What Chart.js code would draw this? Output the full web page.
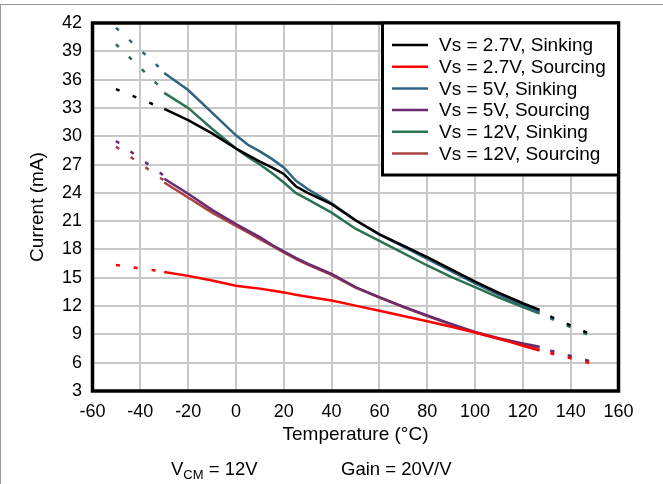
<!DOCTYPE html>
<html>
<head>
<meta charset="utf-8">
<title>Output current vs temperature</title>
<script src="https://cdn.jsdelivr.net/npm/chart.js@4.4.1/dist/chart.umd.min.js"></script>
<style>
  html, body { margin: 0; padding: 0; background: #fff; }
  canvas { display: block; }
</style>
</head>
<body>
<canvas id="currentChart" width="663" height="484"></canvas>
<script>
/* data (Temperature in °C, current in mA)
---------------------------- */
var temps = [-30, -20, -10, 0, 5, 10, 15, 20, 25, 30, 40, 50, 60, 70, 80, 90, 100, 110, 120, 127];
var sink27 = [32.9, 31.7, 30.3, 28.7, 28.0, 27.3, 26.7, 26.0, 24.7, 24.0, 22.8, 21.1, 19.6, 18.4, 17.2, 15.9, 14.6, 13.4, 12.3, 11.6];
var src27  = [15.6, 15.2, 14.7, 14.15, 14.0, 13.85, 13.65, 13.45, 13.2, 13.0, 12.6, 12.05, 11.5, 10.95, 10.4, 9.8, 9.2, 8.55, 7.8, 7.3];
var sink5  = [36.7, 34.9, 32.5, 30.1, 29.1, 28.4, 27.6, 26.7, 25.3, 24.4, 22.9, 21.1, 19.6, 18.3, 17.0, 15.7, 14.4, 13.2, 12.1, 11.4];
var src5   = [25.5, 23.9, 22.2, 20.7, 20.0, 19.3, 18.5, 17.8, 17.1, 16.5, 15.4, 14.0, 12.95, 11.95, 11.0, 10.1, 9.25, 8.6, 8.05, 7.7];
var sink12 = [34.6, 33.0, 30.8, 28.7, 27.8, 27.0, 26.1, 25.1, 24.0, 23.3, 21.9, 20.2, 18.9, 17.6, 16.3, 15.1, 14.0, 12.9, 11.9, 11.2];
var src12  = [25.1, 23.5, 21.9, 20.5, 19.8, 19.1, 18.4, 17.7, 17.0, 16.4, 15.3, 13.95, 12.9, 11.9, 10.95, 10.05, 9.2, 8.5, 7.95, 7.55];

// dotted extrapolation at both ends
var tempsLow  = [-50.2, -30];
var tempsHigh = [131.5, 149];
var sink27Low = [35.0, 32.9],  sink27High = [10.9, 8.95];
var src27Low  = [16.35, 15.65], src27High = [7.0, 5.9];
var sink5Low  = [41.5, 36.8],  sink5High  = [10.8, 8.85];
var src5Low   = [29.5, 25.8],  src5High   = [7.3, 6.1];
var sink12Low = [39.75, 34.8], sink12High = [10.7, 8.75];
var src12Low  = [28.9, 25.3],  src12High  = [7.2, 6.05];

var xTicks = [-60, 160, 20];   // min, max, step
var yTicks = [3, 42, 3];

var fontFamily = '"Liberation Sans", Arial, sans-serif';
Chart.defaults.font.family = fontFamily;
Chart.defaults.color = '#000';

function pts(xs, ys) {
  return xs.map(function (x, i) { return { x: x, y: ys[i] }; });
}

function solid(label, color, ys) {
  return {
    label: label, data: pts(temps, ys),
    borderColor: color, backgroundColor: color,
    borderWidth: 2.5, pointRadius: 0, tension: 0
  };
}

function dotted(color, xs, ys) {
  return {
    label: '', ext: true, data: pts(xs, ys),
    borderColor: color, backgroundColor: color,
    borderWidth: 2.5, borderDash: [4, 14], pointRadius: 0
  };
}

var cBlack = '#000000', cRed = '#ff0000', cBlue = '#2f6382',
    cPurple = '#6a2b6f', cGreen = '#2b7250', cBrown = '#ab4242';

/* legend box + frame + footer note
---------------------------- */
var decorations = {
  id: 'decorations',
  afterDraw: function (chart) {
    var ctx = chart.ctx, a = chart.chartArea;
    ctx.save();

    // plot frame
    ctx.strokeStyle = '#000';
    ctx.lineWidth = 3.5;
    ctx.strokeRect(a.left, a.top, a.right - a.left, a.bottom - a.top);

    // legend
    var bx = 382.5, by = 23, bw = 236, bh = 152;
    ctx.fillStyle = '#fff';
    ctx.fillRect(bx, by, bw, bh);
    ctx.lineWidth = 3;
    ctx.strokeRect(bx, by, bw, bh);
    var items = chart.data.datasets.filter(function (d) { return !d.ext; });
    ctx.font = '19px ' + fontFamily;
    ctx.textBaseline = 'middle';
    items.forEach(function (d, i) {
      var y = 45 + i * 21.7;
      ctx.strokeStyle = d.borderColor;
      ctx.lineWidth = 2.5;
      ctx.beginPath();
      ctx.moveTo(392, y);
      ctx.lineTo(428, y);
      ctx.stroke();
      ctx.fillStyle = '#000';
      ctx.fillText(d.label, 439, y + 1);
    });

    // footer note
    ctx.textBaseline = 'alphabetic';
    ctx.font = '18.5px ' + fontFamily;
    ctx.fillText('V', 171, 475);
    var w = ctx.measureText('V').width;
    ctx.font = '13px ' + fontFamily;
    ctx.fillText('CM', 171 + w, 479);
    var w2 = ctx.measureText('CM').width;
    ctx.font = '18.5px ' + fontFamily;
    ctx.fillText(' = 12V', 171 + w + w2, 475);
    ctx.fillText('Gain = 20V/V', 341, 475);

    // outer picture edge
    ctx.strokeStyle = '#999';
    ctx.lineWidth = 1;
    ctx.beginPath();
    ctx.moveTo(0, 4.5); ctx.lineTo(663, 4.5);
    ctx.moveTo(0.5, 4); ctx.lineTo(0.5, 484);
    ctx.stroke();
    ctx.restore();
  }
};

var ctx1 = document.getElementById('currentChart');
var currentChart = new Chart(ctx1, {
  type: 'line',
  data: {
    datasets: [
      solid('Vs = 2.7V, Sinking', cBlack, sink27),
      solid('Vs = 2.7V, Sourcing', cRed, src27),
      solid('Vs = 5V, Sinking', cBlue, sink5),
      solid('Vs = 5V, Sourcing', cPurple, src5),
      solid('Vs = 12V, Sinking', cGreen, sink12),
      solid('Vs = 12V, Sourcing', cBrown, src12),
      dotted(cBlack, tempsLow, sink27Low), dotted(cBlack, tempsHigh, sink27High),
      dotted(cRed, tempsLow, src27Low), dotted(cRed, tempsHigh, src27High),
      dotted(cBlue, tempsLow, sink5Low), dotted(cBlue, tempsHigh, sink5High),
      dotted(cPurple, tempsLow, src5Low), dotted(cPurple, tempsHigh, src5High),
      dotted(cGreen, tempsLow, sink12Low), dotted(cGreen, tempsHigh, sink12High),
      dotted(cBrown, tempsLow, src12Low), dotted(cBrown, tempsHigh, src12High)
    ]
  },
  options: {
    responsive: false,
    animation: false,
    events: [],
    layout: { padding: { left: 0, top: 23, right: 44.5, bottom: 0 } },
    plugins: { legend: { display: false }, tooltip: { enabled: false } },
    scales: {
      x: {
        type: 'linear',
        min: xTicks[0], max: xTicks[1],
        ticks: { stepSize: xTicks[2], padding: 10, autoSkip: false, maxRotation: 0, font: { size: 18 } },
        grid: { color: '#c8c8c8', lineWidth: 2, drawTicks: false },
        border: { display: false },
        title: { display: true, text: 'Temperature (°C)', font: { size: 19 }, padding: { top: 0, bottom: 38 } },
        afterFit: function (s) { s.height = 93; }
      },
      y: {
        type: 'linear',
        min: yTicks[0], max: yTicks[1],
        ticks: { stepSize: yTicks[2], padding: 10.5, font: { size: 18 } },
        grid: { color: '#c8c8c8', lineWidth: 2, drawTicks: false },
        border: { display: false },
        title: { display: true, text: 'Current (mA)', font: { size: 19 }, padding: { top: 26, bottom: 0 } },
        afterFit: function (s) { s.width = 92.5; }
      }
    }
  },
  plugins: [decorations]
});
</script>
</body>
</html>
